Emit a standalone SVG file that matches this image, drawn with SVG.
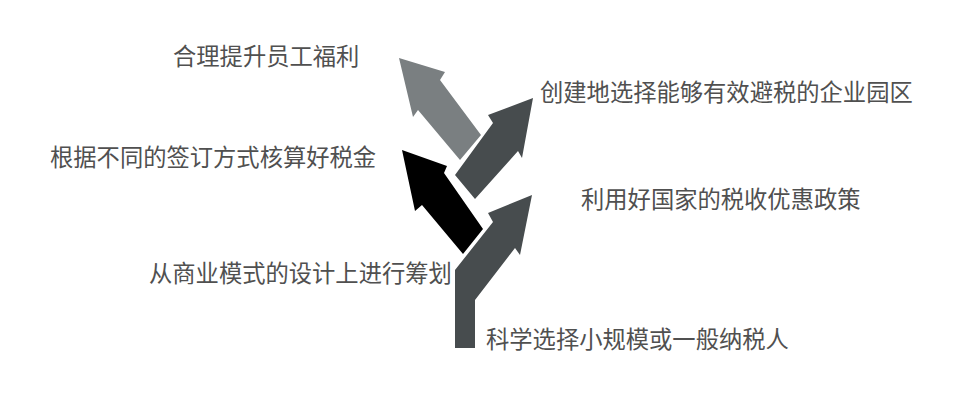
<svg xmlns="http://www.w3.org/2000/svg" width="973" height="418" viewBox="0 0 973 418">
<style>
.lbl{font-family:"Noto Sans CJK SC","Noto Sans",sans-serif;font-size:23.3px;fill:#505050}
.light{fill:#7a7f81}
.dark{fill:#474c4e}
.black{fill:#000}
</style>
<rect width="973" height="418" fill="#ffffff"/>
<g id="connectors">
<polygon id="arrow-welfare" class="light" points="399,58 445,72 440,80 481,135 460,160 418,110 413,117"/>
<polygon id="arrow-park" class="dark" points="533,98 522,158 518,151 475,199 455,175 493,123 488,115"/>
<polygon id="arrow-contract" class="black" points="402,150 447,166 444,173 483,229 463,254 422,205 415,211"/>
<polygon id="arrow-base" class="dark" points="455,348 455,270 493,222 488,213 532,195 520,255 515,248 475,300 475,348"/>
</g>
<g id="n1"><text class="lbl" x="173" y="65">合理提升员工福利</text></g>
<g id="n2"><text class="lbl" x="540" y="101">创建地选择能够有效避税的企业园区</text></g>
<g id="n3"><text class="lbl" x="50" y="166">根据不同的签订方式核算好税金</text></g>
<g id="n4"><text class="lbl" x="581" y="208">利用好国家的税收优惠政策</text></g>
<g id="n5"><text class="lbl" x="149" y="282">从商业模式的设计上进行筹划</text></g>
<g id="n6"><text class="lbl" x="486" y="348">科学选择小规模或一般纳税人</text></g>
</svg>
